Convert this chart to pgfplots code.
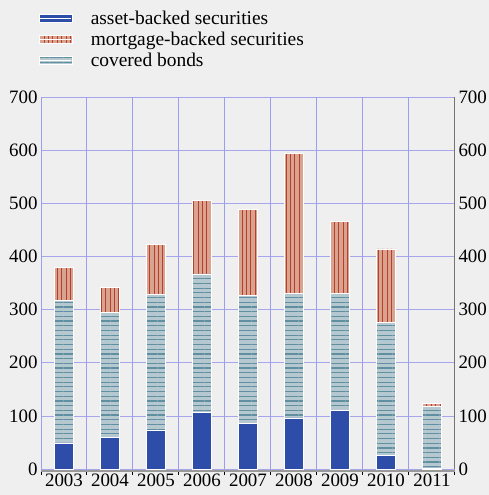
\documentclass[border=0pt]{standalone}
\usepackage{fontspec}
\setmainfont{Liberation Serif}
\usepackage{pgfplots}
\usepackage{pgfplotstable}
\pgfplotsset{compat=1.18}
\usetikzlibrary{patterns.meta}

\definecolor{bg}{HTML}{EFEFEF}
\definecolor{absblue}{HTML}{2D4DA8}
\definecolor{mbsfill}{HTML}{D9A38F}
\definecolor{mbsline}{HTML}{B5402E}
\definecolor{cbfill}{HTML}{B5C8CF}
\definecolor{cbline}{HTML}{5F8FA0}
\definecolor{gridc}{HTML}{A6A6EC}
\definecolor{vgridc}{HTML}{9C9CF2}

% issuance by year: asset-backed, covered bonds, mortgage-backed
\pgfplotstableread{
x  abs  cb   mbs
0  49   269  62
1  60   234  47
2  72   256  94
3  107  260  138
4  85   241  162
5  96   235  262
6  111  220  134
7  26   249  139
8  2    115  7
}\datatable

\tikzset{
  absbar/.style={fill=absblue, draw=white, line width=0.8bp},
  mbsbar/.style={fill=mbsfill, draw=white, line width=0.8bp,
    postaction={pattern={Lines[angle=90,distance=4.4bp,line width=0.9bp]}, pattern color=mbsline}},
  cbbar/.style={fill=cbfill, draw=white, line width=0.8bp,
    postaction={pattern={Lines[angle=0,distance=4.7bp,line width=1.2bp]}, pattern color=cbline}},
}

\begin{document}
\begin{tikzpicture}
\fill[bg] (-41bp,-26bp) rectangle (448bp,469bp);
\begin{axis}[
  at={(0,0)}, anchor=south west,
  scale only axis, width=414bp, height=372bp,
  clip=false,
  ybar stacked, bar width=0.42,
  xmin=-0.5, xmax=8.5, ymin=0, ymax=700,
  ytick={0,100,...,700},
  xtick={0,...,8},
  xticklabels={2003,2004,2005,2006,2007,2008,2009,2010,2011},
  xticklabel style={yshift=-1bp},
  x tick style={draw=none},
  y tick style={draw=none},
  ymajorgrids,
  grid style={draw=gridc, line width=0.7bp},
  major grid style={draw=gridc, line width=0.7bp},
  axis x line*=bottom, axis y line*=left,
  x axis line style={draw=none},
  y axis line style={black, line width=0.9bp, -},
  tick label style={font=\fontsize{19}{22}\selectfont},
  /pgf/number format/assume math mode=true,
  legend style={at={(axis description cs:-0.0125,1.243)}, anchor=north west,
    draw=none, fill=none, font=\fontsize{19.5}{22}\selectfont, row sep=2.3bp,
    /tikz/every odd column/.append style={column sep=16bp}},
  legend cell align=left,
  legend image code/.code={\path[#1] (0bp,-4bp) rectangle (33bp,4bp); \path (0bp,0bp) -- (32bp,0bp);},
]
\addlegendimage{absbar}
\addlegendentry{asset-backed securities}
\addlegendimage{mbsbar}
\addlegendentry{mortgage-backed securities}
\addlegendimage{cbbar}
\addlegendentry{covered bonds}

% vertical grid lines between the years
\pgfplotsinvokeforeach{-0.5,0.5,...,7.5}{
  \draw[vgridc, line width=1bp] (axis cs:#1,0) -- (axis cs:#1,700);
}
\addplot[absbar] table[x=x, y=abs] {\datatable};
\addplot[cbbar] table[x=x, y=cb] {\datatable};
\addplot[mbsbar] table[x=x, y=mbs] {\datatable};
% bottom axis line with separators
\draw[gray!80, line width=1.6bp] ([yshift=-2bp]rel axis cs:0,0) -- ([yshift=-2bp]rel axis cs:1,0);
\pgfplotsinvokeforeach{-0.5,0.5,...,8.5}{
  \draw[black, line width=1bp] ([yshift=-1bp]axis cs:#1,0) -- ([yshift=-6bp]axis cs:#1,0);
}
\end{axis}
\begin{axis}[
  at={(0,0)}, anchor=south west,
  scale only axis, width=414bp, height=372bp,
  xmin=-0.5, xmax=8.5, ymin=0, ymax=700,
  ytick={0,100,...,700},
  axis x line=none, axis y line*=right,
  y axis line style={draw=gray!90!black, line width=1bp, -},
  y tick style={draw=none},
  tick label style={font=\fontsize{19}{22}\selectfont},
  /pgf/number format/assume math mode=true,
]
\addplot[draw=none] coordinates {(0,0)};
\end{axis}
\pgfresetboundingbox
\path[use as bounding box] (-41bp,-26bp) rectangle (448bp,469bp);
\end{tikzpicture}
\end{document}
